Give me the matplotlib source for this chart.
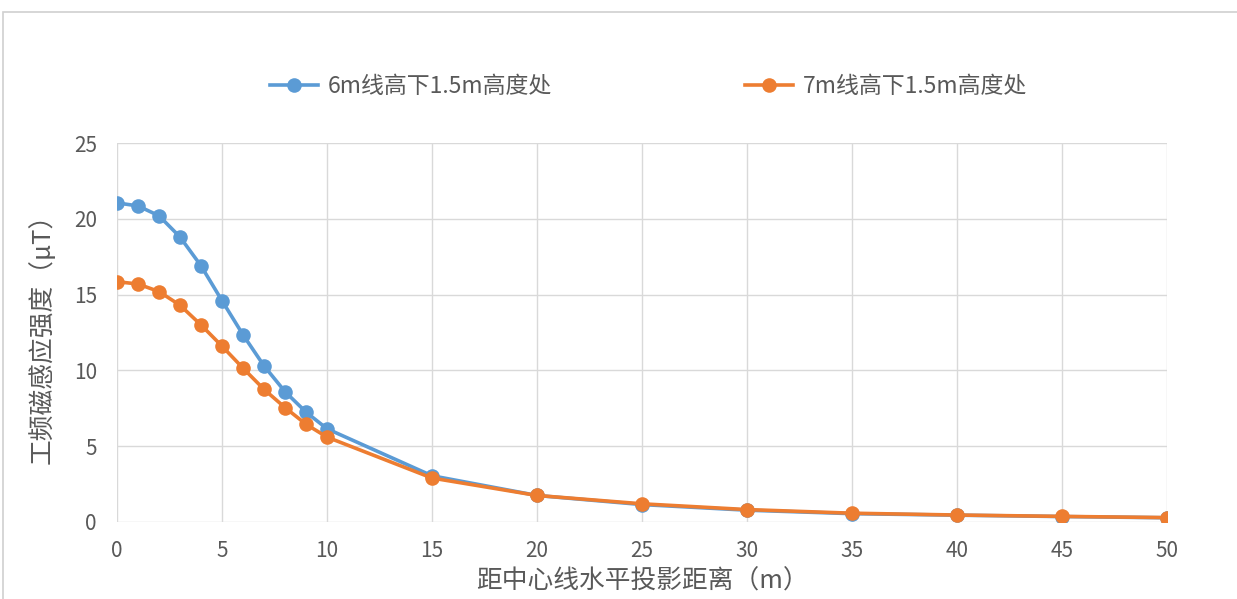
"""Power-frequency magnetic field vs. distance from line centre."""

import matplotlib
matplotlib.use('Agg')
import matplotlib.pyplot as plt
from matplotlib.patches import Rectangle

plt.rcParams['font.family'] = ['Noto Sans CJK SC', 'DejaVu Sans']

# distance from centreline (m)
dist = [0, 1, 2, 3, 4, 5, 6, 7, 8, 9, 10, 15, 20, 25, 30, 35, 40, 45, 50]
# 6 m line height, 1.5 m above ground (uT)
b_6m = [21.05, 20.85, 20.2, 18.8, 16.9, 14.6, 12.35, 10.3, 8.6, 7.25, 6.15,
        3.05, 1.75, 1.15, 0.78, 0.55, 0.45, 0.36, 0.28]
# 7 m line height, 1.5 m above ground (uT)
b_7m = [15.85, 15.7, 15.2, 14.3, 13.0, 11.6, 10.15, 8.75, 7.55, 6.45, 5.6,
        2.9, 1.75, 1.2, 0.82, 0.58, 0.46, 0.37, 0.29]
series_labels = ['6m线高下1.5m高度处', '7m线高下1.5m高度处']
xticks = [0, 5, 10, 15, 20, 25, 30, 35, 40, 45, 50]
yticks = [0, 5, 10, 15, 20, 25]

BLUE = '#5B9BD5'
ORANGE = '#ED7D31'
GRID = '#D9D9D9'
TICK = '#595959'

fig = plt.figure(figsize=(12.37, 5.99), dpi=100)
fig.patch.set_facecolor('white')

# chart-area border like the office chart frame
fig.add_artist(Rectangle((3.5 / 1237, -0.01), 1.2, 1 - 11.5 / 599 + 0.01,
                         transform=fig.transFigure, fill=False,
                         edgecolor='#D0D0D0', linewidth=1.2))

ax = fig.add_axes([117 / 1237, 1 - 522 / 599, (1167 - 117) / 1237, (522 - 143) / 599])

l1, = ax.plot(dist, b_6m, color=BLUE, lw=2.6, marker='o', ms=10.5,
              markeredgewidth=0, label=series_labels[0], zorder=3)
l2, = ax.plot(dist, b_7m, color=ORANGE, lw=2.6, marker='o', ms=10.5,
              markeredgewidth=0, label=series_labels[1], zorder=4)

ax.set_xlim(0, 50)
ax.set_ylim(0, 25)
ax.set_xticks(xticks)
ax.set_yticks(yticks)
ax.grid(True, color=GRID, lw=1.0)
ax.set_axisbelow(True)
for s in ax.spines.values():
    s.set_visible(False)
ax.tick_params(length=0, labelsize=15, labelcolor=TICK)
ax.tick_params(axis='y', pad=14.5)
ax.tick_params(axis='x', pad=13)
for lab in ax.get_xticklabels() + ax.get_yticklabels():
    lab.set_clip_on(False)

ax.set_xlabel('距中心线水平投影距离（m）', fontsize=18.5, color=TICK, va='center')
ax.set_ylabel('工频磁感应强度（μT）', fontsize=18.5, color=TICK, va='center')
ax.xaxis.set_label_coords(0.5, (522 - 582) / 379)
ax.yaxis.set_label_coords((42 - 117) / 1050, 0.5)

fig.legend(handles=[l1, l2], loc='center', bbox_to_anchor=(648.5 / 1237, 1 - 87 / 599),
           ncol=2, frameon=False, fontsize=16.5, columnspacing=8.4,
           handlelength=2.1, handletextpad=0.45, labelcolor=TICK)

fig.savefig('out.png', dpi=100, facecolor='white')
